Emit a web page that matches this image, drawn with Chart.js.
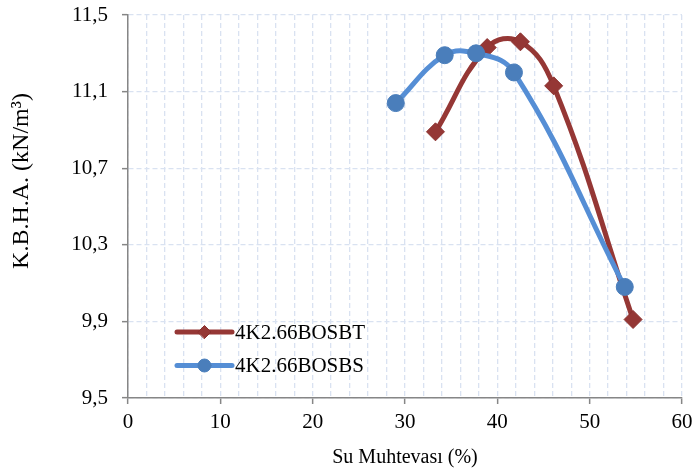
<!DOCTYPE html>
<html>
<head>
<meta charset="utf-8">
<title>K.B.H.A. - Su Muhtevası</title>
<script src="https://cdn.jsdelivr.net/npm/chart.js"></script>
<style>
    html, body { margin: 0; padding: 0; background: #fff; }
    .chart-container { width: 693px; height: 475px; position: relative; }
</style>
</head>
<body>
<div class="chart-container">
    <canvas id="compactionChart" width="693" height="475"></canvas>
</div>
<script>
    // Values
    const moistureBT = [33.3, 38.9, 42.5, 46.1, 54.7];
    const densityBT = [10.89, 11.33, 11.36, 11.13, 9.91];
    const moistureBS = [29.0, 34.3, 37.7, 41.8, 53.8];
    const densityBS = [11.04, 11.29, 11.30, 11.20, 10.08];
    const seriesNames = ['4K2.66BOSBT', '4K2.66BOSBS'];
    const xTitle = 'Su Muhtevası (%)';
    const yTitle = 'K.B.H.A. (kN/m³)';

    const serif = '"Liberation Serif", "Times New Roman", serif';
    const gridColor = '#d9e2f1';
    const axisColor = '#868686';

    function toPoints(xs, ys) {
        return xs.map((x, i) => ({ x: x, y: ys[i] }));
    }

    // Legend drawn inside the plot, line + marker like the original
    const insideLegend = {
        id: 'insideLegend',
        afterDatasetsDraw(chart) {
            const { ctx, chartArea } = chart;
            const x0 = chartArea.left + 49;
            const x1 = chartArea.left + 104;
            ctx.save();
            chart.data.datasets.forEach((ds, i) => {
                const y = chartArea.top + 317 + i * 33.5;
                ctx.strokeStyle = ds.borderColor;
                ctx.lineWidth = ds.borderWidth;
                ctx.lineCap = 'round';
                ctx.beginPath();
                ctx.moveTo(x0, y);
                ctx.lineTo(x1, y);
                ctx.stroke();
                ctx.fillStyle = ds.pointBackgroundColor;
                ctx.strokeStyle = ds.pointBorderColor;
                ctx.lineWidth = 1;
                Chart.helpers.drawPoint(ctx, { pointStyle: ds.pointStyle, radius: 6.5, borderWidth: 1 }, (x0 + x1) / 2, y);
                ctx.fillStyle = '#000';
                ctx.font = '21px ' + serif;
                ctx.textBaseline = 'middle';
                ctx.textAlign = 'left';
                ctx.fillText(ds.label, x1 + 3, y + 1);
            });
            ctx.restore();
        }
    };

    // Rotated y axis title, placed where the original has it
    const yAxisTitle = {
        id: 'yAxisTitle',
        afterDraw(chart) {
            const ctx = chart.ctx;
            ctx.save();
            ctx.translate(22, 181);
            ctx.rotate(-Math.PI / 2);
            ctx.fillStyle = '#000';
            ctx.font = '24px ' + serif;
            ctx.textAlign = 'center';
            ctx.textBaseline = 'middle';
            ctx.fillText(yTitle, 0, 0);
            ctx.restore();
        }
    };

    const ctx = document.getElementById('compactionChart').getContext('2d');
    new Chart(ctx, {
        type: 'line',
        data: {
            datasets: [
                {
                    label: seriesNames[0],
                    data: toPoints(moistureBT, densityBT),
                    borderColor: '#953735',
                    backgroundColor: '#953735',
                    pointBackgroundColor: '#953735',
                    pointBorderColor: '#8a302e',
                    borderWidth: 5,
                    borderCapStyle: 'round',
                    pointStyle: 'rectRot',
                    pointRadius: 9,
                    pointBorderWidth: 1,
                    tension: 0.42,
                    order: 1
                },
                {
                    label: seriesNames[1],
                    data: toPoints(moistureBS, densityBS),
                    borderColor: '#558ed5',
                    backgroundColor: '#4a7ebb',
                    pointBackgroundColor: '#4a7ebb',
                    pointBorderColor: '#4a7ebb',
                    borderWidth: 5,
                    borderCapStyle: 'round',
                    pointStyle: 'circle',
                    pointRadius: 8.5,
                    pointBorderWidth: 1,
                    tension: 0.42,
                    order: 0
                }
            ]
        },
        options: {
            responsive: false,
            animation: false,
            layout: { padding: { top: 15, right: 11, left: 0, bottom: 0 } },
            plugins: {
                legend: { display: false },
                tooltip: { enabled: false }
            },
            scales: {
                x: {
                    type: 'linear',
                    min: 0,
                    max: 60,
                    afterFit: scale => {
                        scale.height = 77;
                        scale.paddingLeft = 0;
                        scale.paddingRight = 0;
                    },
                    ticks: {
                        stepSize: 2,
                        autoSkip: false,
                        maxRotation: 0,
                        padding: 6,
                        color: '#000',
                        font: { family: serif, size: 21 },
                        callback: v => (v % 10 === 0 ? v : '')
                    },
                    grid: {
                        color: gridColor,
                        lineWidth: 1.3,
                        tickLength: 6,
                        tickWidth: 1.5,
                        tickColor: c => (c.tick && c.tick.value % 10 === 0 ? axisColor : 'rgba(0,0,0,0)')
                    },
                    border: { color: axisColor, width: 1.5, dash: [5, 3] },
                    title: {
                        display: true,
                        text: xTitle,
                        color: '#000',
                        font: { family: serif, size: 20 },
                        padding: { top: 0, bottom: 5 }
                    }
                },
                y: {
                    min: 9.5,
                    max: 11.5,
                    afterFit: scale => {
                        scale.width = 128;
                        scale.paddingTop = 0;
                        scale.paddingBottom = 0;
                    },
                    ticks: {
                        stepSize: 0.4,
                        padding: 14,
                        color: '#000',
                        font: { family: serif, size: 21 },
                        callback: v => v.toFixed(1).replace('.', ',')
                    },
                    grid: {
                        color: gridColor,
                        lineWidth: 1.3,
                        tickLength: 6,
                        tickWidth: 1.5,
                        tickColor: axisColor
                    },
                    border: { color: axisColor, width: 1.5, dash: [5, 3] }
                }
            }
        },
        plugins: [insideLegend, yAxisTitle]
    });
</script>
</body>
</html>
